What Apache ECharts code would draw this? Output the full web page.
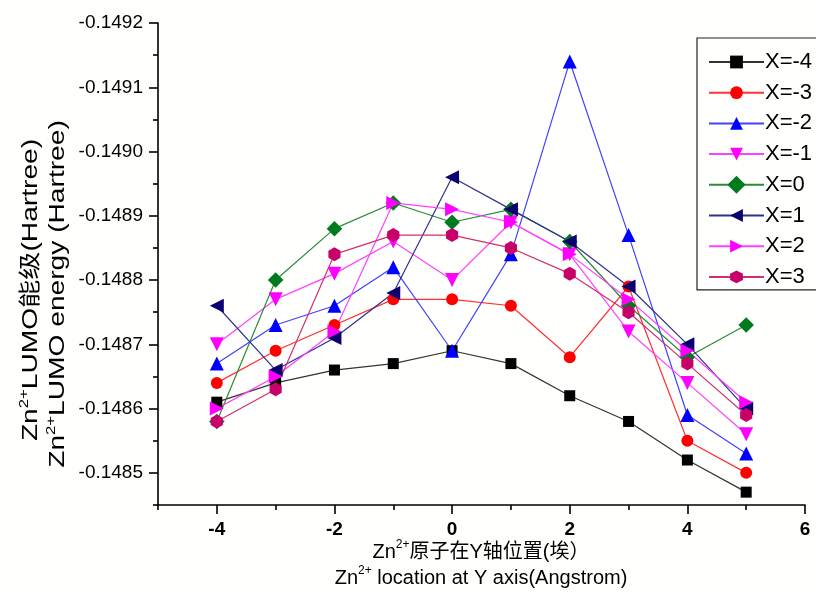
<!DOCTYPE html>
<html>
<head>
<meta charset="utf-8">
<script src="https://cdn.jsdelivr.net/npm/echarts@6/dist/echarts.min.js"></script>
<style>
  html, body { margin: 0; padding: 0; background: #fffffe; }
  #chart { width: 816px; height: 592px; }
</style>
</head>
<body>
<div id="chart"></div>
<script>
// Zn2+ position along the Y axis (Angstrom)
const positions = [-4, -3, -2, -1, 0, 1, 2, 3, 4, 5];

// LUMO energy (Hartree) for each X offset of the ion
const lumoXm4 = [-0.14861, -0.14864, -0.14866, -0.14867, -0.14869, -0.14867, -0.14862, -0.14858, -0.14852, -0.14847];
const lumoXm3 = [-0.14864, -0.14869, -0.14873, -0.14877, -0.14877, -0.14876, -0.14868, -0.14879, -0.14855, -0.14850];
const lumoXm2 = [-0.14867, -0.14873, -0.14876, -0.14882, -0.14869, -0.14884, -0.14914, -0.14887, -0.14859, -0.14853];
const lumoXm1 = [-0.14870, -0.14877, -0.14881, -0.14886, -0.14880, -0.14889, -0.14884, -0.14872, -0.14864, -0.14856];
const lumoX0  = [-0.14858, -0.14880, -0.14888, -0.14892, -0.14889, -0.14891, -0.14886, -0.14876, -0.14868, -0.14873];
const lumoX1  = [-0.14876, -0.14866, -0.14871, -0.14878, -0.14896, -0.14891, -0.14886, -0.14879, -0.14870, -0.14860];
const lumoX2  = [-0.14860, -0.14865, -0.14872, -0.14892, -0.14891, -0.14889, -0.14884, -0.14877, -0.14869, -0.14861];
const lumoX3  = [-0.14858, -0.14863, -0.14884, -0.14887, -0.14887, -0.14885, -0.14881, -0.14875, -0.14867, -0.14859];

const seriesNames = ['X=-4', 'X=-3', 'X=-2', 'X=-1', 'X=0', 'X=1', 'X=2', 'X=3'];

// Axis ticks
const xMajorTicks = [-4, -2, 0, 2, 4, 6];
const xMinorTicks = [-5, -3, -1, 1, 3, 5];
const yMajorTicks = [-0.1492, -0.1491, -0.1490, -0.1489, -0.1488, -0.1487, -0.1486, -0.1485];
const yMinorTicks = [-0.14915, -0.14905, -0.14895, -0.14885, -0.14875, -0.14865, -0.14855, -0.14845];

const FONT = '"Liberation Sans", Arial, "Noto Sans CJK SC", sans-serif';
const hexagon = 'path://M0,-1L0.866,-0.5L0.866,0.5L0,1L-0.866,0.5L-0.866,-0.5Z';

const styles = [
  { color: '#000000', line: '#333333', symbol: 'rect', size: 11, rotate: 0 },
  { color: '#ff0000', line: '#ff3030', symbol: 'circle', size: 12, rotate: 0 },
  { color: '#0000ff', line: '#4040ff', symbol: 'triangle', size: 14, rotate: 0 },
  { color: '#ff00ff', line: '#ff40ff', symbol: 'triangle', size: 14, rotate: 180 },
  { color: '#007a1e', line: '#2a8a3a', symbol: 'rect', size: 11, rotate: 45 },
  { color: '#0c0070', line: '#303090', symbol: 'triangle', size: 14, rotate: 90 },
  { color: '#ff00ff', line: '#ff40ff', symbol: 'triangle', size: 14, rotate: -90 },
  { color: '#c8006a', line: '#d0306e', symbol: hexagon, size: 14, rotate: 0 }
];
const seriesValues = [lumoXm4, lumoXm3, lumoXm2, lumoXm1, lumoX0, lumoX1, lumoX2, lumoX3];

const series = seriesValues.map((vals, i) => ({
  name: seriesNames[i],
  type: 'line',
  xAxisIndex: 0,
  yAxisIndex: 0,
  data: positions.map((p, k) => [p, vals[k]]),
  symbol: styles[i].symbol,
  symbolSize: styles[i].size,
  symbolRotate: styles[i].rotate,
  symbolKeepAspect: true,
  showAllSymbol: true,
  lineStyle: { color: styles[i].line, width: 1.2 },
  itemStyle: { color: styles[i].color },
  emphasis: { disabled: true },
  animation: false
}));

const chart = echarts.init(document.getElementById('chart'), null, { renderer: 'canvas' });

const richX = {
  t: { fontSize: 20, fontFamily: FONT, color: '#000', lineHeight: 26 },
  s: { fontSize: 12, fontFamily: FONT, color: '#000', lineHeight: 14, verticalAlign: 'top' }
};
const richY = {
  t: { fontSize: 22, fontFamily: FONT, color: '#000', lineHeight: 26 },
  s: { fontSize: 13, fontFamily: FONT, color: '#000', lineHeight: 14, verticalAlign: 'top' }
};

const axisLineStyle = { color: '#000', width: 1.6 };

chart.setOption({
  backgroundColor: '#fffffe',
  animation: false,
  grid: { left: 158, right: 11, top: 23, bottom: 87, containLabel: false },
  xAxis: [
    {
      type: 'value', min: -5, max: 6, position: 'bottom',
      axisLine: { onZero: false, lineStyle: axisLineStyle },
      axisTick: { customValues: xMajorTicks, length: 9, lineStyle: axisLineStyle },
      axisLabel: {
        customValues: xMajorTicks, margin: 15,
        fontSize: 19, fontWeight: 'bold', fontFamily: FONT, color: '#000'
      },
      splitLine: { show: false }
    },
    {
      type: 'value', min: -5, max: 6, position: 'bottom',
      axisLine: { show: false, onZero: false },
      axisTick: { customValues: xMinorTicks, length: 5, lineStyle: axisLineStyle },
      axisLabel: { show: false },
      splitLine: { show: false }
    }
  ],
  yAxis: [
    {
      type: 'value', inverse: true, min: -0.1492, max: -0.14845, position: 'left',
      axisLine: { show: true, onZero: false, lineStyle: axisLineStyle },
      axisTick: { show: true, customValues: yMajorTicks, length: 9, lineStyle: axisLineStyle },
      axisLabel: {
        customValues: yMajorTicks, margin: 15,
        fontSize: 19, fontFamily: FONT, color: '#000',
        formatter: v => v.toFixed(4)
      },
      splitLine: { show: false }
    },
    {
      type: 'value', inverse: true, min: -0.1492, max: -0.14845, position: 'left',
      axisLine: { show: false, onZero: false },
      axisTick: { show: true, customValues: yMinorTicks, length: 5, lineStyle: axisLineStyle },
      axisLabel: { show: false },
      splitLine: { show: false }
    }
  ],
  legend: {
    orient: 'vertical',
    left: 697, top: 38,
    padding: [11, 40, 0, 11],
    itemWidth: 55, itemHeight: 16, itemGap: 4.7,
    borderColor: '#222', borderWidth: 1.2,
    backgroundColor: '#fffffe',
    textStyle: { fontSize: 22, fontFamily: FONT, color: '#000', lineHeight: 26, padding: [0, 0, 0, -4] },
    selectedMode: false,
    data: seriesNames
  },
  graphic: [
    {
      type: 'text', x: 481, y: 552, silent: true,
      style: { text: '{t|Zn}{s|2+}{t|原子在Y轴位置(埃）}', rich: richX, align: 'center', verticalAlign: 'middle' }
    },
    {
      type: 'text', x: 481, y: 578, silent: true,
      style: { text: '{t|Zn}{s|2+}{t| location at Y axis(Angstrom)}', rich: richX, align: 'center', verticalAlign: 'middle' }
    },
    {
      type: 'text', x: 31, y: 290, rotation: Math.PI / 2, scaleX: 1.28, silent: true,
      style: { text: '{t|Zn}{s|2+}{t|LUMO能级(Hartree)}', rich: richY, align: 'center', verticalAlign: 'middle' }
    },
    {
      type: 'text', x: 58, y: 294, rotation: Math.PI / 2, scaleX: 1.28, silent: true,
      style: { text: '{t|Zn}{s|2+}{t|LUMO energy (Hartree)}', rich: richY, align: 'center', verticalAlign: 'middle' }
    }
  ],
  series
});
</script>
</body>
</html>
